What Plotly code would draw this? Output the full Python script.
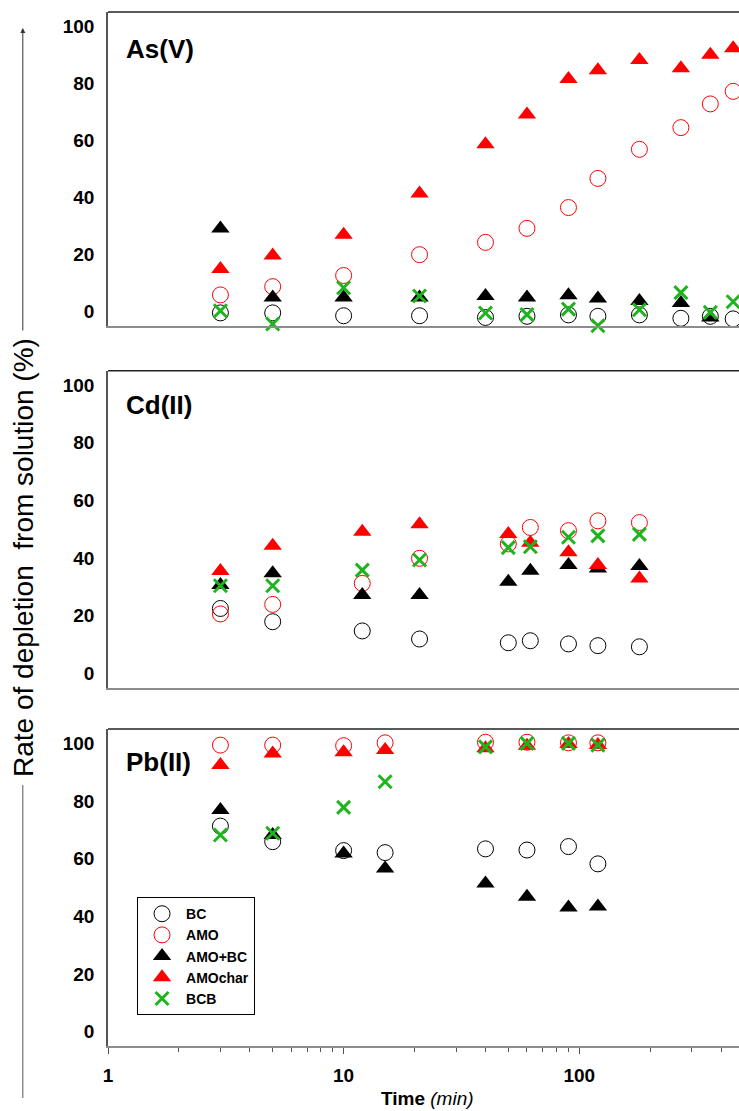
import plotly.graph_objects as go
from plotly.subplots import make_subplots

# ---------------- data ----------------
series_names = ["BC", "AMO", "AMO+BC", "AMOchar", "BCB"]

as_time = [3, 5, 10, 21, 40, 60, 90, 120, 180, 270, 360, 450]
as_BC = [-0.4, -0.4, -1.4, -1.4, -2.0, -1.6, -1.1, -1.6, -1.1, -2.3, -1.6, -2.5]
as_AMO = [5.9, 8.8, 12.7, 20.0, 24.3, 29.2, 36.5, 46.7, 56.9, 64.5, 72.8, 77.2]
as_AMOBC = [29.2, 5.0, 5.0, 5.0, 5.5, 5.0, 5.8, 4.6, 3.8, 3.1, -2.0, None]
as_AMOchar = [15.0, 19.7, 27.0, 41.4, 58.7, 69.1, 81.5, 84.6, 88.2, 85.3, 90.0, 92.3]
as_BCB = [0.35, -4.3, 8.4, 5.5, -0.45, -1.0, 0.9, -4.9, 0.7, 6.7, -0.2, 3.5]

cd_time = [3, 5, 12, 21, 50, 62, 90, 120, 180]
cd_BC = [22.5, 17.9, 14.7, 11.9, 10.6, 11.3, 10.2, 9.6, 9.2]
cd_AMO = [20.6, 23.9, 31.2, 39.9, 44.9, 50.6, 49.5, 52.9, 52.3]
cd_AMOBC = [30.6, 34.7, 27.2, 27.2, 31.8, 35.6, 37.6, 36.4, 37.2]
cd_AMOchar = [35.5, 44.3, 49.1, 51.7, 48.3, 45.3, 42.0, 37.6, 32.9]
cd_BCB = [30.4, 30.4, 35.8, 39.3, 43.6, 43.9, 47.2, 47.7, 48.2]

pb_time = [3, 5, 10, 15, 40, 60, 90, 120]
pb_BC = [71.3, 65.9, 62.8, 62.1, 63.4, 63.0, 64.2, 58.2]
pb_AMO = [99.4, 99.4, 99.2, 100.2, 100.4, 100.4, 100.2, 100.2]
pb_AMOBC = [76.9, 68.2, 61.8, 56.6, 51.4, 46.8, 43.1, 43.4]
pb_AMOchar = [92.5, 96.5, 96.9, 97.7, 98.3, 99.2, 99.8, 99.4]
pb_BCB = [68.2, 68.8, 77.8, 86.7, 98.8, 100.0, 100.0, 99.4]

panel_labels = ["As(V)", "Cd(II)", "Pb(II)"]
y_ticks = [0, 20, 40, 60, 80, 100]
x_ticks = [1, 10, 100]
x_tick_text = ["1", "10", "100"]
x_minor = [2, 3, 4, 5, 6, 7, 8, 9, 20, 30, 40, 50, 60, 70, 80, 90, 200, 300, 400]

panels = [
    (as_time, [as_BC, as_AMO, as_AMOBC, as_AMOchar, as_BCB]),
    (cd_time, [cd_BC, cd_AMO, cd_AMOBC, cd_AMOchar, cd_BCB]),
    (pb_time, [pb_BC, pb_AMO, pb_AMOBC, pb_AMOchar, pb_BCB]),
]

# ---------------- styles ----------------
FONT = "Liberation Sans, Arial, sans-serif"
GREEN = "#1EB41E"
styles = {
    "BC": dict(symbol="circle-open", color="black", size=16, line=dict(width=1, color="black")),
    "AMO": dict(symbol="circle-open", color="#FF0000", size=16, line=dict(width=1, color="#FF0000")),
    "AMO+BC": dict(symbol="triangle-up", color="black", size=16, line=dict(width=0)),
    "AMOchar": dict(symbol="triangle-up", color="#FF0000", size=16, line=dict(width=0)),
    "BCB": dict(symbol="x-thin-open", color=GREEN, size=13, line=dict(width=3, color=GREEN)),
}

fig = make_subplots(rows=3, cols=1)

for r, (t, vals) in enumerate(panels, start=1):
    for name, v in zip(series_names, vals):
        fig.add_trace(
            go.Scatter(
                x=t, y=v, mode="markers", name=name,
                marker=styles[name],
                showlegend=(r == 3), legendgroup=name,
                cliponaxis=False,
            ),
            row=r, col=1,
        )

# ---------------- layout ----------------
domains = [(0.6963, 1.0), (0.3465, 0.6531), (0.0, 0.3066)]
xr = [0, 2.678]

layout = dict(
    width=739, height=1111,
    margin=dict(l=108, r=0, t=12, b=65),
    paper_bgcolor="white", plot_bgcolor="white",
    font=dict(family=FONT, color="black"),
    showlegend=True,
    legend=dict(
        x=0.046, y=0.144, xanchor="left", yanchor="top",
        bordercolor="black", borderwidth=1, bgcolor="white",
        font=dict(family=FONT, size=14, color="black", weight="bold"),
        tracegroupgap=0, itemwidth=38,
    ),
)
fig.update_layout(**layout)

for i in range(3):
    sx = "" if i == 0 else str(i + 1)
    fig.layout["yaxis" + sx].update(
        domain=list(domains[i]), range=[-5, 105], tickvals=y_ticks,
        showline=True, linecolor="#555555", linewidth=1.5, mirror=False,
        ticks="", showgrid=False, zeroline=False,
        tickfont=dict(family=FONT, size=19, weight="bold", color="black"),
        ticklabelstandoff=8,
    )
    xa = dict(
        type="log", range=xr, showline=True, linecolor="#8c8c8c", linewidth=2,
        showgrid=False, zeroline=False, mirror=False,
    )
    if i < 2:
        xa.update(showticklabels=False, ticks="")
    else:
        xa.update(
            tickvals=x_ticks, ticktext=x_tick_text, ticks="outside", ticklen=6,
            tickcolor="#555555", tickwidth=1,
            tickfont=dict(family=FONT, size=19, weight="bold", color="black"),
            ticklabelstandoff=5,
            minor=dict(tickvals=x_minor, ticks="outside", ticklen=4, tickcolor="#555555", tickwidth=1),
        )
    fig.layout["xaxis" + sx].update(**xa)

    # top border of each panel
    fig.add_shape(
        type="line", xref="x%s domain" % sx, yref="y%s domain" % sx,
        x0=0, x1=1, y0=1, y1=1, line=dict(color="#222222", width=1.5),
    )
    # panel label
    fig.add_annotation(
        text="<b>%s</b>" % panel_labels[i], xref="x%s domain" % sx, yref="y%s domain" % sx,
        x=0.026, y=[0.883, 0.892, 0.897][i], xanchor="left", yanchor="middle",
        showarrow=False, font=dict(family=FONT, size=26, color="black"),
    )

# y-axis title with arrow lines
fig.add_annotation(
    text="Rate of depletion  from solution (%)", xref="paper", yref="paper",
    x=-0.134, y=0.4724, textangle=-90, showarrow=False,
    xanchor="center", yanchor="middle",
    font=dict(family=FONT, size=28, color="black"),
)
fig.add_annotation(
    text="", xref="paper", yref="paper", x=-0.135, y=0.9845,
    ax=0, ay=304, showarrow=True, arrowhead=2, arrowsize=1, arrowwidth=1,
    arrowcolor="#333333",
)
fig.add_shape(
    type="line", xref="paper", yref="paper", x0=-0.135, x1=-0.135,
    y0=0.2524, y1=-0.0503, line=dict(color="#555555", width=1),
)

# x-axis title
fig.add_annotation(
    text="<b>Time</b> <i>(min)</i>", xref="paper", yref="paper",
    x=0.507, y=-0.0503, xanchor="center", yanchor="middle", showarrow=False,
    font=dict(family=FONT, size=19, color="black"),
)

fig.write_html("out.html")
